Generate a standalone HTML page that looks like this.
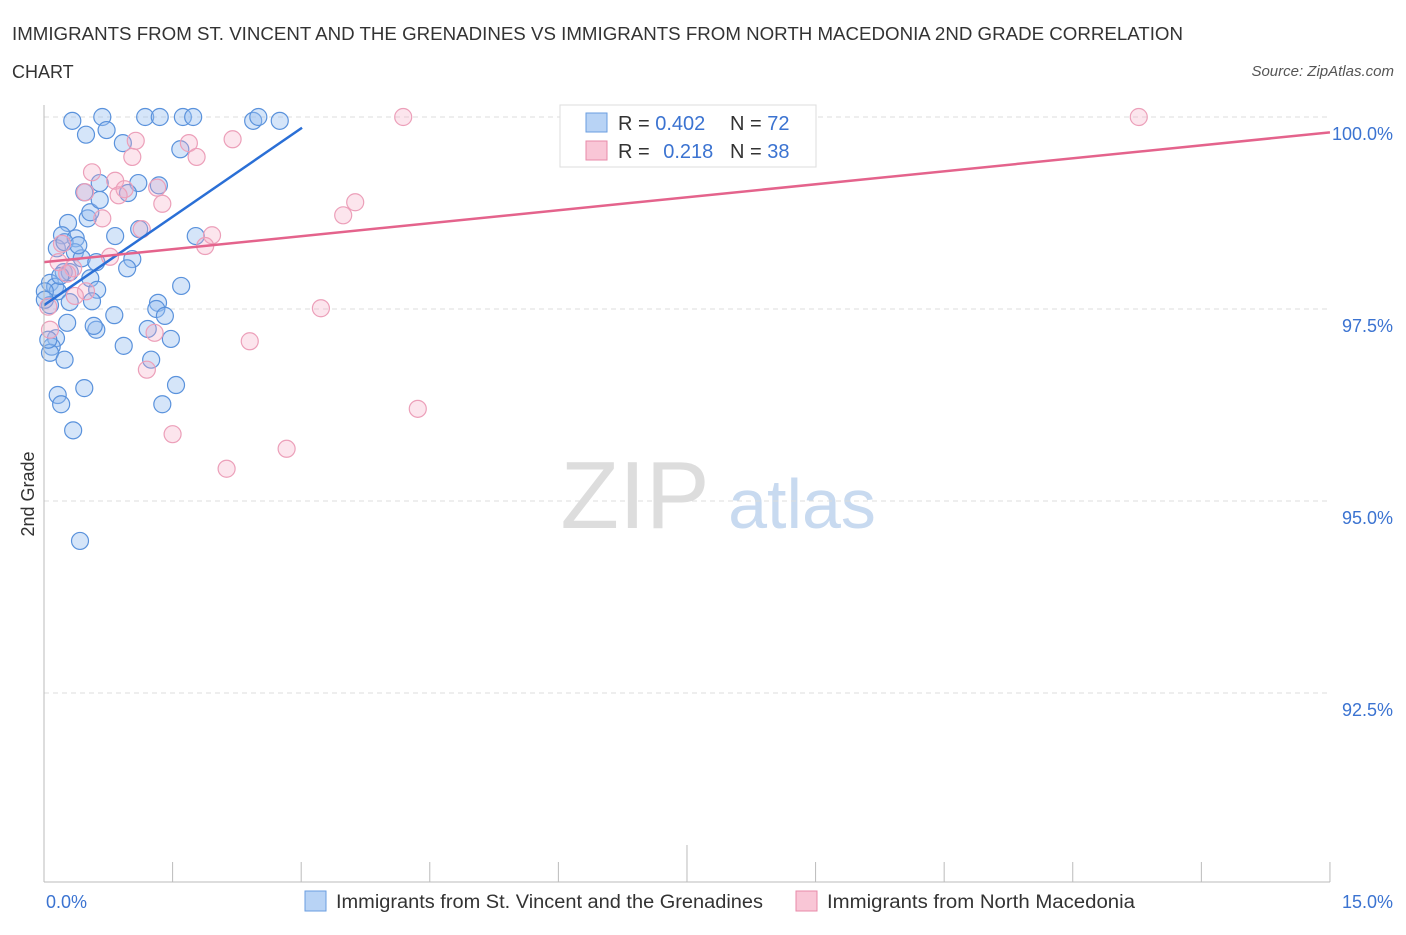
<!DOCTYPE html>
<html><head><meta charset="utf-8"><style>
body{margin:0;background:#fff;font-family:"Liberation Sans",sans-serif;}
svg text{font-family:"Liberation Sans",sans-serif;}
</style></head><body>
<svg id="chart" width="1406" height="930" xmlns="http://www.w3.org/2000/svg">
<text x="12" y="40" font-size="18" fill="#333" textLength="1171" lengthAdjust="spacingAndGlyphs">IMMIGRANTS FROM ST. VINCENT AND THE GRENADINES VS IMMIGRANTS FROM NORTH MACEDONIA 2ND GRADE CORRELATION</text>
<text x="12" y="78" font-size="18" fill="#333">CHART</text>
<text x="1394" y="76" font-size="15" fill="#555" font-style="italic" text-anchor="end">Source: ZipAtlas.com</text>
<text x="635" y="528" font-size="96" fill="#ddd" font-family="Liberation Serif" text-anchor="middle">ZIP</text>
<text x="802" y="528" font-size="70" fill="#c8daf0" text-anchor="middle">atlas</text>
<text transform="translate(34,494) rotate(-90)" font-size="18" fill="#333" text-anchor="middle">2nd Grade</text>
<g id="grid"></g><g id="ticks"></g><g id="pts"></g><g id="lines"></g>
<line x1="44" y1="105" x2="44" y2="882" stroke="#bbb"/>
<line x1="44" y1="882" x2="1330" y2="882" stroke="#bbb"/>
<text x="46" y="908" font-size="18" fill="#3b73d1">0.0%</text>
<text x="1393" y="908" font-size="18" fill="#3b73d1" text-anchor="end">15.0%</text>
<g>
<rect x="560" y="105" width="256" height="62" fill="#fff" stroke="#ddd"/>
<rect x="586" y="113" width="21" height="19" fill="#b8d3f5" stroke="#6a9ee0"/>
<rect x="586" y="141" width="21" height="19" fill="#f9c6d6" stroke="#e88aa8"/>
<text x="618" y="130" font-size="20" fill="#333">R = <tspan fill="#3b73d1">0.402</tspan></text>
<text x="730" y="130" font-size="20" fill="#333">N = <tspan fill="#3b73d1">72</tspan></text>
<text x="618" y="158" font-size="20" fill="#333">R = <tspan fill="#3b73d1" dx="8">0.218</tspan></text>
<text x="730" y="158" font-size="20" fill="#333">N = <tspan fill="#3b73d1">38</tspan></text>
</g>
<g>
<rect x="305" y="891" width="21" height="20" fill="#b8d3f5" stroke="#6a9ee0"/>
<text x="336" y="908" font-size="19" fill="#333" textLength="427" lengthAdjust="spacingAndGlyphs">Immigrants from St. Vincent and the Grenadines</text>
<rect x="796" y="891" width="21" height="20" fill="#f9c6d6" stroke="#e88aa8"/>
<text x="827" y="908" font-size="19" fill="#333" textLength="308" lengthAdjust="spacingAndGlyphs">Immigrants from North Macedonia</text>
</g>
</svg>
<script>
const yTicks=[100,97.5,95,92.5];
const yTickLabels=["100.0%","97.5%","95.0%","92.5%"];
const xTicks=[0,1.5,3,4.5,6,7.5,9,10.5,12,13.5,15];
const blueX=[0.33,0.68,1.18,1.35,1.62,1.74,2.44,2.50,2.75,0.49,0.73,0.92,1.59,0.65,1.10,1.34,0.47,0.98,0.51,0.28,0.54,0.21,0.37,0.83,1.77,1.11,0.15,0.24,0.36,0.44,0.61,1.03,0.97,0.23,0.30,0.07,0.13,0.16,0.01,0.54,0.62,1.60,0.56,0.30,1.33,1.31,0.07,0.82,0.27,0.61,0.58,1.21,1.48,0.14,0.09,0.07,0.93,0.24,1.25,0.47,0.16,0.20,1.54,1.38,0.34,0.42,0.01,0.05,0.65,0.40,0.19,1.41];
const blueY=[99.95,100,100,100,100,100,99.95,100,99.95,99.77,99.83,99.66,99.58,99.14,99.14,99.11,99.02,99.01,98.68,98.62,98.76,98.46,98.42,98.45,98.45,98.54,98.29,98.37,98.24,98.16,98.11,98.15,98.03,97.98,97.98,97.84,97.79,97.73,97.73,97.90,97.75,97.80,97.60,97.59,97.58,97.50,97.55,97.42,97.32,97.23,97.28,97.24,97.11,97.12,97.01,96.93,97.02,96.84,96.84,96.47,96.38,96.26,96.51,96.26,95.92,94.48,97.62,97.10,98.92,98.33,97.93,97.41];
const pinkX=[4.19,8.07,12.77,1.07,1.69,2.20,1.03,1.78,0.56,0.83,0.94,0.48,0.87,1.32,1.38,3.63,3.49,0.68,1.14,1.96,1.88,0.21,0.17,0.77,0.34,0.27,0.49,0.36,0.05,3.23,0.07,1.29,2.40,1.20,4.36,1.50,2.83,2.13];
const pinkY=[100,100,100,99.69,99.66,99.71,99.48,99.48,99.28,99.17,99.06,99.02,98.98,99.08,98.87,98.89,98.72,98.68,98.54,98.46,98.32,98.35,98.11,98.18,98.03,97.96,97.73,97.67,97.53,97.51,97.23,97.19,97.08,96.71,96.20,95.87,95.68,95.42];
const blueTrend=[[0,97.55],[3.01,99.86]];
const pinkTrend=[[0,98.11],[15,99.80]];
const NS="http://www.w3.org/2000/svg";
function sx(v){return 44+v*85.73;}
function sy(v){return 117+(100-v)*76.8;}
function mk(t,a,p){const e=document.createElementNS(NS,t);for(const k in a)e.setAttribute(k,a[k]);document.getElementById(p).appendChild(e);return e;}
yTicks.forEach((t,i)=>{
 const l=mk('line',{x1:44,x2:1330,y1:sy(t),y2:sy(t),stroke:'#ddd','stroke-dasharray':'5,4'},'grid');
 
 
 const tx=mk('text',{x:1393,y:sy(t)+23,'font-size':18,fill:'#3b73d1','text-anchor':'end'},'grid');
 tx.textContent=yTickLabels[i];
 
 
});
xTicks.forEach((t,i)=>{
 const l=mk('line',{x1:sx(t),x2:sx(t),y1:(i==5?845:862),y2:882,stroke:'#bbb'},'ticks');
 
 
});
function dots(X,Y,f,s,name){X.forEach((x,i)=>{
 const c=mk('circle',{cx:sx(x),cy:sy(Y[i]),r:8.5,fill:f,stroke:s,'stroke-width':1.2},'pts');
 
 
});}
dots(blueX,blueY,'rgba(150,190,240,0.4)','#5a92dc','point-stvincent');
dots(pinkX,pinkY,'rgba(245,170,195,0.3)','#ec9fb9','point-macedonia');
const bl=mk('line',{x1:sx(blueTrend[0][0]),y1:sy(blueTrend[0][1]),x2:sx(blueTrend[1][0]),y2:sy(blueTrend[1][1]),stroke:'#2a6fd6','stroke-width':2.5},'lines');


const pl=mk('line',{x1:sx(pinkTrend[0][0]),y1:sy(pinkTrend[0][1]),x2:sx(pinkTrend[1][0]),y2:sy(pinkTrend[1][1]),stroke:'#e4638c','stroke-width':2.5},'lines');


</script>
</body></html>
